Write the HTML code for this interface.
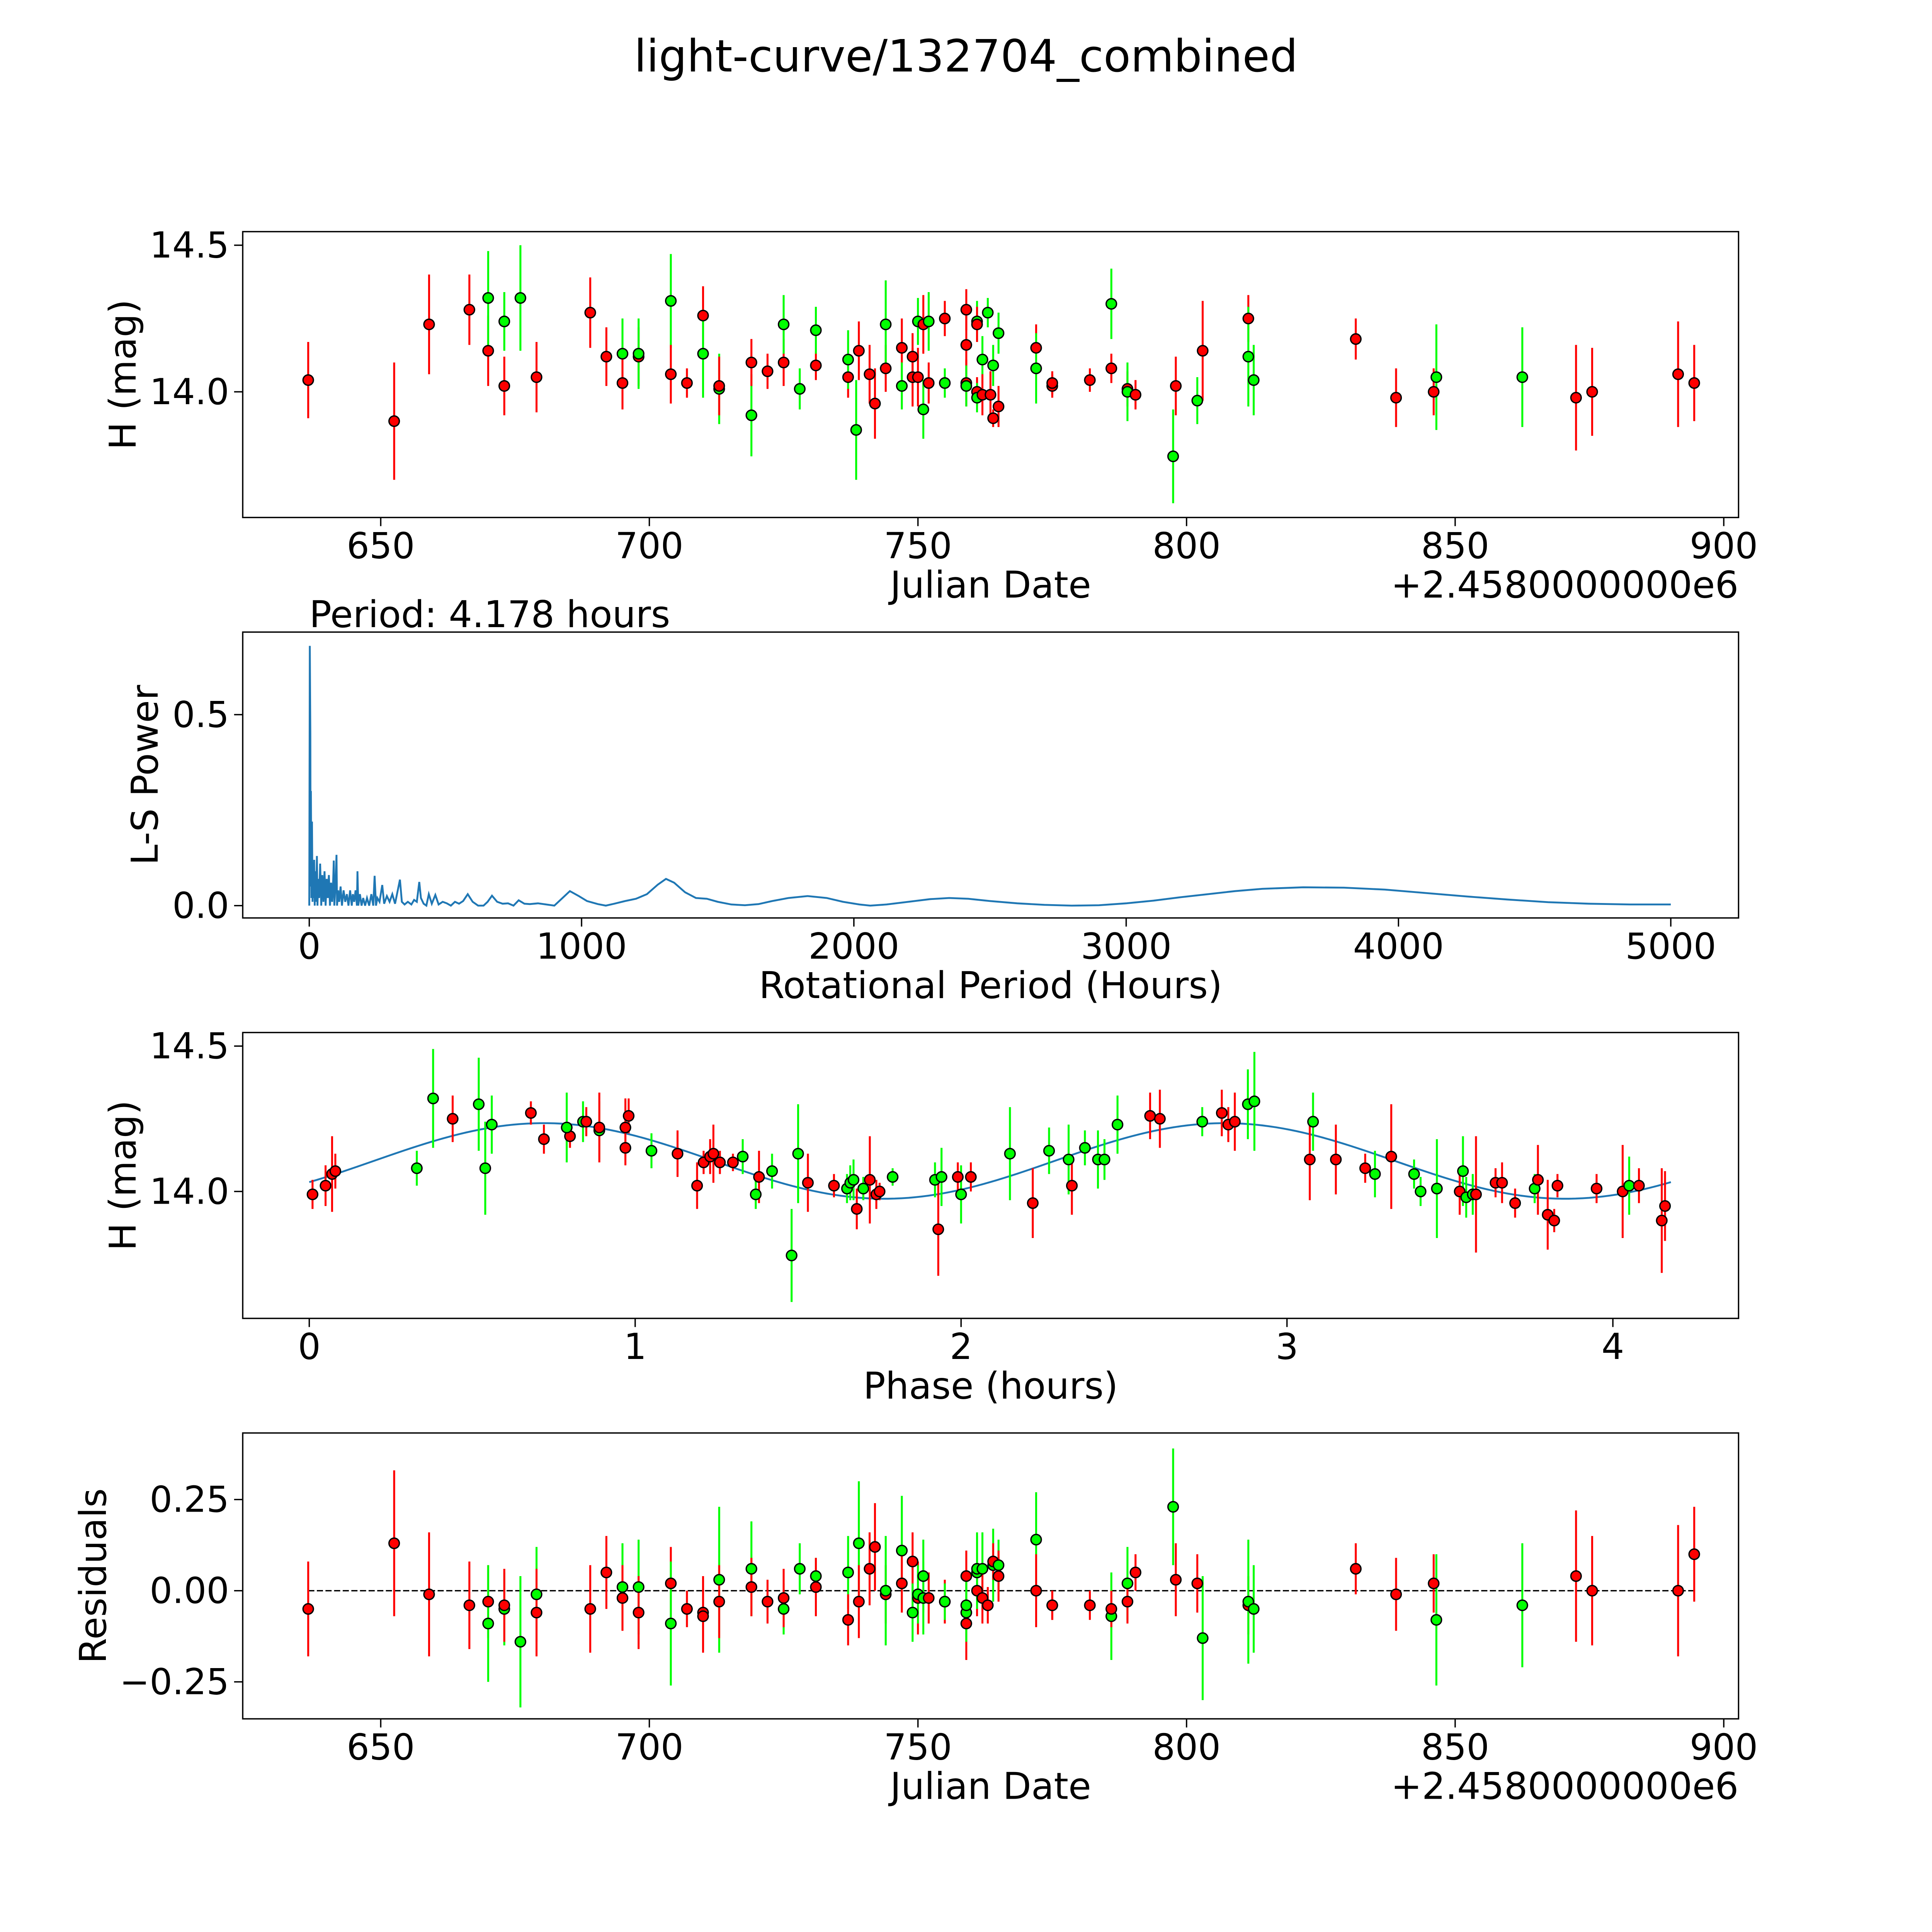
<!DOCTYPE html>
<html><head><meta charset="utf-8"><style>
html,body{margin:0;padding:0;background:#fff;overflow:hidden}
svg{display:block;width:100vw;height:100vh}
text{font-family:"DejaVu Sans","Liberation Sans",sans-serif;fill:#000}
</style></head><body>
<svg id="fig" xmlns="http://www.w3.org/2000/svg" viewBox="0 0 1568 1568" preserveAspectRatio="none">
<rect x="0" y="0" width="1568" height="1568" fill="#fff"/>
<text x="784" y="58" font-size="36" text-anchor="middle">light-curve/132704_combined</text>
</svg>
<script>
// ---- Panel 1: raw light curve ----
const lcDates=[636.5,652.5,659,666.5,670,670,673,673,676,679,689,692,695,695,698,698,704,704,707,710,710,713,713,719,719,722,725,725,728,731,731,737,737,738.5,739,741,742,744,744,747,747,749,749,750,750,751,751,752,752,755,755,759,759,759,759,761,761,761,761,762,762,763,763.5,764,764,765,765,772,772,775,775,782,786,786,789,789,790.5,797.5,798,802,803,811.5,811.5,812.5,831.5,839,846,846.5,862.5,872.5,875.5,891.5,894.5];
const lcMags=[14.04,13.9,14.23,14.28,14.14,14.32,14.02,14.24,14.32,14.05,14.27,14.12,14.13,14.03,14.12,14.13,14.31,14.06,14.03,14.26,14.13,14.01,14.02,13.92,14.1,14.07,14.1,14.23,14.01,14.09,14.21,14.05,14.11,13.87,14.14,14.06,13.96,14.08,14.23,14.15,14.02,14.12,14.05,14.24,14.05,13.94,14.23,14.24,14.03,14.25,14.03,14.28,14.16,14.03,14.02,14.24,14.23,14.0,13.98,14.11,13.99,14.27,13.99,14.09,13.91,13.95,14.2,14.15,14.08,14.02,14.03,14.04,14.3,14.08,14.01,14.0,13.99,13.78,14.02,13.97,14.14,14.25,14.12,14.04,14.18,13.98,14.0,14.05,14.05,13.98,14.0,14.06,14.03];
const lcErrs=[.13,.2,.17,.12,.12,.16,.1,.1,.18,.12,.12,.1,.12,.09,.1,.12,.16,.1,.05,.1,.15,.12,.1,.14,.08,.06,.08,.1,.07,.05,.08,.07,.1,.17,.1,.1,.12,.08,.15,.1,.08,.08,.1,.08,.1,.1,.1,.1,.07,.06,.05,.07,.1,.08,.07,.07,.06,.05,.05,.08,.07,.05,.08,.07,.03,.07,.07,.08,.12,.04,.04,.04,.12,.05,.06,.1,.05,.16,.1,.08,.17,.08,.17,.12,.07,.1,.08,.18,.17,.18,.15,.18,.13];
const lcColors="rrrrrgrgg rrrgrrg grrrgg rgrrrgg rg rggrrrrg rgrrgrgrgrrg rrrg grrg grg rgrrgrgrrrg rrg rgrgrrgg rrrggrrrr".replace(/ /g,"");
// ---- Panel 2: periodogram ----
const lsPeriods=[0,2,4,5,6,8,10,12,14,16,18,20,22,25,28,30,33,36,40,44,48,52,56,60,64,68,72,76,80,84,88,90,92,96,100,102,106,110,115,120,126,132,138,144,150,156,160,165,170,175,177,180,186,192,198,205,212,220,228,235,240,245,250,258,268,275,285,295,305,315,325,333,340,350,362,375,385,395,404,410,420,430,439,450,463,475,490,505,520,535,550,565,582,600,620,640,655,671,690,710,730,750,769,790,810,840,870,900,930,957,990,1020,1060,1089,1120,1160,1200,1240,1280,1310,1340,1380,1420,1460,1500,1550,1600,1650,1700,1760,1830,1900,1960,2020,2060,2120,2200,2280,2350,2420,2500,2600,2700,2800,2900,3000,3100,3200,3300,3400,3500,3650,3800,3950,4100,4250,4400,4550,4700,4850,5000];
const lsPowers=[0.0,0.68,0.45,0.05,0.3,0.02,0.22,0.01,0.1,0.02,0.12,0.0,0.09,0.01,0.13,0.0,0.07,0.02,0.11,0.0,0.08,0.01,0.09,0.0,0.07,0.02,0.08,0.0,0.06,0.01,0.07,0.118,0.0,0.05,0.133,0.0,0.04,0.01,0.05,0.0,0.04,0.01,0.03,0.0,0.04,0.0,0.03,0.01,0.04,0.0,0.09,0.0,0.03,0.0,0.02,0.0,0.02,0.0,0.03,0.0,0.078,0.0,0.02,0.01,0.054,0.005,0.025,0.01,0.03,0.005,0.04,0.068,0.01,0.003,0.01,0.003,0.015,0.01,0.062,0.02,0.005,0.0,0.03,0.005,0.028,0.003,0.01,0.006,0.0,0.01,0.005,0.012,0.03,0.01,0.0,0.0,0.01,0.026,0.01,0.005,0.006,0.0,0.014,0.005,0.004,0.006,0.003,0.0,0.02,0.038,0.025,0.012,0.004,0.0,0.005,0.012,0.018,0.03,0.055,0.07,0.06,0.035,0.02,0.018,0.01,0.003,0.001,0.004,0.012,0.02,0.025,0.02,0.01,0.003,0.0,0.003,0.01,0.017,0.02,0.018,0.012,0.006,0.002,0.0,0.001,0.006,0.013,0.022,0.03,0.038,0.044,0.048,0.047,0.042,0.033,0.024,0.016,0.009,0.005,0.003,0.003];
// ---- Panel 3: phased curve ----
const phPhases=[0.01,0.05,0.07,0.08,0.33,0.38,0.44,0.52,0.54,0.56,0.68,0.72,0.8,0.79,0.84,0.85,0.89,0.89,0.97,0.97,0.98,1.05,1.13,1.19,1.21,1.23,1.24,1.26,1.3,1.33,1.37,1.38,1.42,1.48,1.5,1.53,1.61,1.65,1.66,1.67,1.68,1.7,1.72,1.74,1.75,1.79,1.92,1.93,1.94,1.99,2.0,2.03,2.15,2.22,2.27,2.33,2.34,2.38,2.42,2.44,2.48,2.58,2.61,2.74,2.8,2.82,2.84,2.88,2.9,3.07,3.08,3.15,3.24,3.27,3.32,3.39,3.41,3.46,3.53,3.54,3.55,3.57,3.58,3.64,3.66,3.7,3.76,3.77,3.8,3.82,3.83,3.95,4.03,4.05,4.08,4.15,4.16];
const phMags=[13.99,14.02,14.06,14.07,14.08,14.32,14.25,14.3,14.08,14.23,14.27,14.18,14.19,14.22,14.24,14.24,14.21,14.22,14.22,14.15,14.26,14.14,14.13,14.02,14.1,14.12,14.13,14.1,14.1,14.12,13.99,14.05,14.07,13.78,14.13,14.03,14.02,14.01,14.03,14.04,13.94,14.01,14.04,13.99,14.0,14.05,14.04,13.87,14.05,14.05,13.99,14.05,14.13,13.96,14.14,14.11,14.02,14.15,14.11,14.11,14.23,14.26,14.25,14.24,14.27,14.23,14.24,14.3,14.31,14.11,14.24,14.11,14.08,14.06,14.12,14.06,14.0,14.01,14.0,14.07,13.98,13.99,13.99,14.03,14.03,13.96,14.01,14.04,13.92,13.9,14.02,14.01,14.0,14.02,14.02,13.9,13.95];
const phErrs=[.05,.07,.13,.06,.06,.17,.08,.16,.16,.1,.04,.05,.04,.12,.07,.05,.1,.12,.1,.06,.06,.06,.08,.08,.04,.06,.1,.04,.03,.06,.05,.09,.06,.16,.17,.1,.04,.05,.06,.07,.07,.04,.15,.05,.03,.03,.06,.16,.1,.05,.1,.05,.16,.12,.08,.12,.1,.06,.1,.07,.1,.08,.1,.05,.08,.06,.1,.12,.17,.14,.1,.12,.05,.08,.18,.05,.05,.17,.08,.12,.07,.07,.2,.05,.07,.05,.05,.12,.12,.04,.04,.05,.16,.1,.06,.18,.12];
const phColors="rrrrgg rgggrrrggrgr rrrgrrrrrrrggr ggg rrgggrgrrr g grgrg r g rggrgggg rrgrrrgg rgrrg rgg grgg grrrrgrrrrrrg".replace(/ /g,"");
const modelMean=[14.105], modelAmp=[0.13], modelPeak=[0.72], modelPeriod=[4.178];
// ---- Panel 4: residuals ----
const resDates=[636.5,652.5,659,666.5,670,670,673,673,676,679,679,689,692,695,695,698,698,704,704,707,710,710,713,713,719,719,722,725,725,728,731,731,737,737,739,739,741,742,744,744,747,747,749,749,750,750,751,751,752,755,755,759,759,759,759,761,761,761,762,762,763,764,764,765,765,772,772,775,775,782,786,786,789,789,790.5,797.5,798,802,803,811.5,811.5,812.5,831.5,839,846,846.5,862.5,872.5,875.5,891.5,894.5];
const resVals=[-0.05,0.13,-0.01,-0.04,-0.03,-0.09,-0.05,-0.04,-0.14,-0.01,-0.06,-0.05,0.05,0.01,-0.02,0.01,-0.06,0.02,-0.09,-0.05,-0.06,-0.07,0.03,-0.03,0.06,0.01,-0.03,-0.05,-0.02,0.06,0.04,0.01,0.05,-0.08,0.13,-0.03,0.06,0.12,-0.01,0.0,0.11,0.02,0.08,-0.06,-0.02,-0.01,0.04,-0.02,-0.02,-0.03,-0.03,0.04,-0.09,-0.06,-0.04,0.0,0.05,0.06,0.06,-0.02,-0.04,0.07,0.08,0.07,0.04,0.14,0.0,-0.04,-0.04,-0.04,-0.07,-0.05,0.02,-0.03,0.05,0.23,0.03,0.02,-0.13,-0.04,-0.03,-0.05,0.06,-0.01,0.02,-0.08,-0.04,0.04,0.0,0.0,0.1];
const resErrs=[.13,.2,.17,.12,.1,.16,.1,.1,.18,.13,.12,.12,.1,.12,.09,.13,.1,.1,.17,.05,.1,.1,.2,.1,.13,.08,.06,.07,.08,.07,.05,.08,.1,.07,.17,.1,.1,.12,.08,.15,.15,.08,.08,.08,.1,.08,.1,.1,.07,.06,.05,.07,.1,.08,.07,.07,.1,.1,.1,.07,.05,.1,.05,.07,.07,.13,.1,.04,.04,.04,.12,.05,.1,.06,.05,.16,.1,.08,.17,.08,.17,.12,.07,.1,.08,.18,.17,.18,.15,.18,.13];
const resColors="rrrrrggrggrrrgrgrrgrrrgrgrrgrggrgrgrrrrggrrgrgggrrgrrggrgggrrgrgrgrrrrgrgrrgrrgrggrrrggrrrr";

const NS="http://www.w3.org/2000/svg";
const svg=document.getElementById('fig');
function mk(tag,attrs,parent){const e=document.createElementNS(NS,tag);for(const k in attrs)e.setAttribute(k,attrs[k]);(parent||svg).appendChild(e);return e;}
function lin(d0,d1,p0,p1){return v=>p0+(v-d0)*(p1-p0)/(d1-d0);}

const L=197,R=1411;
const panels=[{t:188,b:420},{t:513,b:745},{t:838,b:1070},{t:1163,b:1395}];

function frame(p,name){
  const r=mk('rect',{x:L,y:p.t,width:R-L,height:p.b-p.t,fill:'none',stroke:'#000','stroke-width':1.1});
  
  
}
function xticks(p,vals,labels,fx,name){
  vals.forEach((v,i)=>{
    const x=fx(v);
    const l=mk('line',{x1:x,x2:x,y1:p.b,y2:p.b+7,stroke:'#000','stroke-width':1.1});
    
    
    const t=mk('text',{x:x,y:p.b+33,'font-size':29,'text-anchor':'middle'});t.textContent=labels[i];
    
    
  });
}
function yticks(p,vals,labels,fy,name){
  vals.forEach((v,i)=>{
    const y=fy(v);
    const l=mk('line',{x1:L-7,x2:L,y1:y,y2:y,stroke:'#000','stroke-width':1.1});
    
    
    const t=mk('text',{x:L-11,y:y+10,'font-size':29,'text-anchor':'end'});t.textContent=labels[i];
    
    
  });
}
function label(x,y,txt,name,rot,anchor){
  const t=mk('text',{x:x,y:y,'font-size':30,'text-anchor':anchor||'middle'});
  if(rot)t.setAttribute('transform','rotate(-90 '+x+' '+y+')');
  t.textContent=txt;
  
  
}
function points(xs,ys,es,cs,fx,fy,name){
  const g=mk('g',{});
  
  
  xs.forEach((v,i)=>{
    const col=cs[i]==='g'?'#00ff00':'#ff0000';
    const x=fx(v);
    const eb=mk('line',{x1:x,x2:x,y1:fy(ys[i]-es[i]),y2:fy(ys[i]+es[i]),stroke:col,'stroke-width':1.6},g);
    
    
  });
  xs.forEach((v,i)=>{
    const col=cs[i]==='g'?'#00ff00':'#ff0000';
    const c=mk('circle',{cx:fx(v),cy:fy(ys[i]),r:4.2,fill:col,stroke:'#000','stroke-width':1.1},g);
    
    
  });
}

// Panel 1
const p1=panels[0];
const fx1=lin(650,900,309,1399), fy1=lin(14.0,14.5,318,199);
frame(p1,'lightcurve');
xticks(p1,[650,700,750,800,850,900],['650','700','750','800','850','900'],fx1,'lightcurve');
yticks(p1,[14.0,14.5],['14.0','14.5'],fy1,'lightcurve');
points(lcDates,lcMags,lcErrs,lcColors,fx1,fy1,'lightcurve');
label(804,485,'Julian Date','lightcurve-x-axis-title');
label(1411,485,'+2.4580000000e6','lightcurve-x-offset','', 'end');
label(110,304,'H (mag)','lightcurve-y-axis-title',true);

// Panel 2
const p2=panels[1];
const fx2=lin(0,5000,251,1356), fy2=lin(0,0.5,735,580);
frame(p2,'periodogram');
xticks(p2,[0,1000,2000,3000,4000,5000],['0','1000','2000','3000','4000','5000'],fx2,'periodogram');
yticks(p2,[0,0.5],['0.0','0.5'],fy2,'periodogram');
const ls=mk('polyline',{points:lsPeriods.map((v,i)=>fx2(v).toFixed(2)+','+fy2(lsPowers[i]).toFixed(2)).join(' '),fill:'none',stroke:'#1f77b4','stroke-width':1.5});


label(251,509,'Period: 4.178 hours','period-annotation','', 'start');
label(804,810,'Rotational Period (Hours)','periodogram-x-axis-title');
label(128,629,'L-S Power','periodogram-y-axis-title',true);

// Panel 3
const p3=panels[2];
const fx3=lin(0,4,251,1309), fy3=lin(14.0,14.5,967,849);
frame(p3,'phased');
xticks(p3,[0,1,2,3,4],['0','1','2','3','4'],fx3,'phased');
yticks(p3,[14.0,14.5],['14.0','14.5'],fy3,'phased');
const mp=[];
for(let i=0;i<=200;i++){const ph=modelPeriod[0]*i/200;mp.push(fx3(ph).toFixed(2)+','+fy3(modelMean[0]+modelAmp[0]*Math.cos(4*Math.PI*(ph-modelPeak[0])/modelPeriod[0])).toFixed(2));}
const mline=mk('polyline',{points:mp.join(' '),fill:'none',stroke:'#1f77b4','stroke-width':1.5});


points(phPhases,phMags,phErrs,phColors,fx3,fy3,'phased');
label(804,1135,'Phase (hours)','phased-x-axis-title');
label(110,954,'H (mag)','phased-y-axis-title',true);

// Panel 4
const p4=panels[3];
const fy4=lin(0,0.25,1291,1217);
frame(p4,'residuals');
xticks(p4,[650,700,750,800,850,900],['650','700','750','800','850','900'],fx1,'residuals');
yticks(p4,[-0.25,0,0.25],['\u22120.25','0.00','0.25'],fy4,'residuals');
const zl=mk('line',{x1:fx1(636.5),x2:fx1(894.5),y1:fy4(0),y2:fy4(0),stroke:'#000','stroke-width':1.1,'stroke-dasharray':'5,2'});


points(resDates,resVals,resErrs,resColors,fx1,fy4,'residuals');
label(804,1460,'Julian Date','residuals-x-axis-title');
label(1411,1460,'+2.4580000000e6','residuals-x-offset','', 'end');
label(86,1279,'Residuals','residuals-y-axis-title',true);
</script>
</body></html>
